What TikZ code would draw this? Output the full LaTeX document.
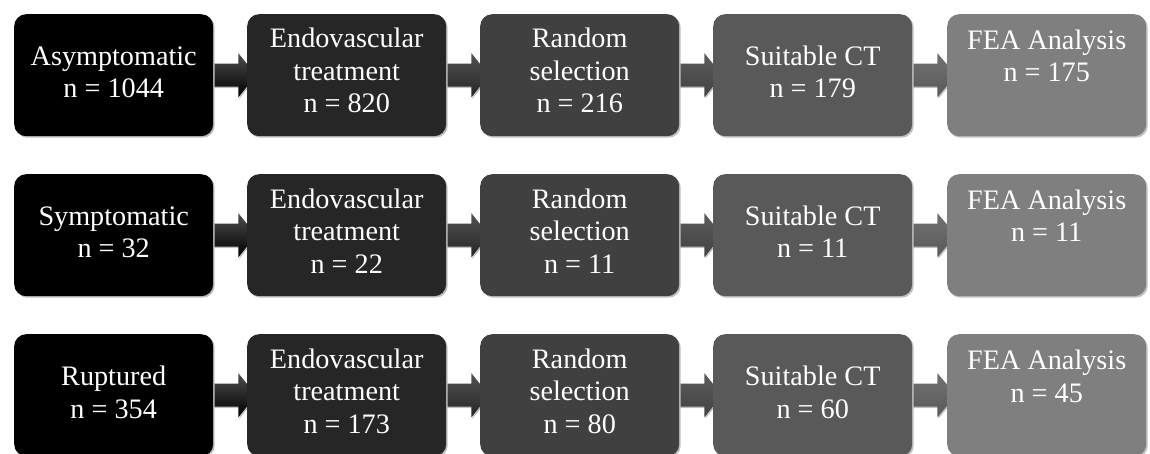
\documentclass[tikz,border=0pt]{standalone}
\usepackage{fontspec}
\setmainfont{Liberation Serif}
\usetikzlibrary{calc,shadows}
\pgfdeclarelayer{background}
\pgfsetlayers{background,main}

% stage fills, darkest to lightest
\definecolor{s1}{HTML}{000000}
\definecolor{s2}{HTML}{262626}
\definecolor{s3}{HTML}{404040}
\definecolor{s4}{HTML}{595959}
\definecolor{s5}{HTML}{7F7F7F}
\definecolor{edgeshade}{HTML}{BFBFBF}

\tikzset{
  stagebox/.style={rounded corners=12pt, minimum width=199pt, minimum height=122pt,
    inner sep=0pt, anchor=north west,
    drop shadow={shadow xshift=1.5pt, shadow yshift=-1.5pt, fill=edgeshade, opacity=1}},
  % the base anchor of a multi-line label is the baseline of its last line
  lbl/.style={text=white, align=center, anchor=base, inner sep=0pt,
    font=\fontsize{28.2}{32.5}\selectfont},
  arrowfill/.style={drop shadow={shadow xshift=1pt, shadow yshift=-1.5pt, fill=edgeshade, opacity=1}}
}

% block arrow from the right side of #1 to the left side of #2, shaded #3 -> #4
\newcommand\flowarrow[4]{%
  \shade[arrowfill, top color=#3, bottom color=#4]
    ($(#1.east)+(-2,-11.5)$) -- ($(#1.east)+(25,-11.5)$) -- ($(#1.east)+(25,-22)$)
    -- ($(#2.west)+(9,0)$)
    -- ($(#1.east)+(25,22)$) -- ($(#1.east)+(25,11.5)$) -- ($(#1.east)+(-2,11.5)$) -- cycle;}

\begin{document}
\begin{tikzpicture}[x=1pt,y=-1pt]
\useasboundingbox (0,0) rectangle (1150,454);

% stage boxes: three rows of five
\foreach \r/\top in {1/14,2/174,3/334}{
  \foreach \c/\left in {1/14,2/247,3/480,4/713,5/947}{
    \node[stagebox, fill=s\c] (b\r\c) at (\left,\top) {};
  }
}

% row 1
\node[lbl] (t11) at ([yshift=-84pt]b11.north) {Asymptomatic\\n = 1044};
\node[lbl] (t12) at ([yshift=-99pt]b12.north) {Endovascular\\treatment\\n = 820};
\node[lbl] (t13) at ([yshift=-99pt]b13.north) {Random\\selection\\n = 216};
\node[lbl] (t14) at ([yshift=-84pt]b14.north) {Suitable CT\\n = 179};
\node[lbl] (t15) at ([yshift=-68pt]b15.north) {FEA Analysis\\n = 175};
% row 2
\node[lbl] (t21) at ([yshift=-84pt]b21.north) {Symptomatic\\n = 32};
\node[lbl] (t22) at ([yshift=-99pt]b22.north) {Endovascular\\treatment\\n = 22};
\node[lbl] (t23) at ([yshift=-99pt]b23.north) {Random\\selection\\n = 11};
\node[lbl] (t24) at ([yshift=-84pt]b24.north) {Suitable CT\\n = 11};
\node[lbl] (t25) at ([yshift=-68pt]b25.north) {FEA Analysis\\n = 11};
% row 3
\node[lbl] (t31) at ([yshift=-84pt]b31.north) {Ruptured\\n = 354};
\node[lbl] (t32) at ([yshift=-99pt]b32.north) {Endovascular\\treatment\\n = 173};
\node[lbl] (t33) at ([yshift=-99pt]b33.north) {Random\\selection\\n = 80};
\node[lbl] (t34) at ([yshift=-84pt]b34.north) {Suitable CT\\n = 60};
\node[lbl] (t35) at ([yshift=-68pt]b35.north) {FEA Analysis\\n = 45};

% connecting arrows, tucked under the boxes
\begin{pgfonlayer}{background}
\foreach \r in {1,2,3}{
  \flowarrow{b\r1}{b\r2}{black!70}{black}
  \flowarrow{b\r2}{b\r3}{s2!80!white}{s2}
  \flowarrow{b\r3}{b\r4}{s3!85!white}{s3}
  \flowarrow{b\r4}{b\r5}{s4!85!white}{s4}
}
\end{pgfonlayer}
\end{tikzpicture}
\end{document}
